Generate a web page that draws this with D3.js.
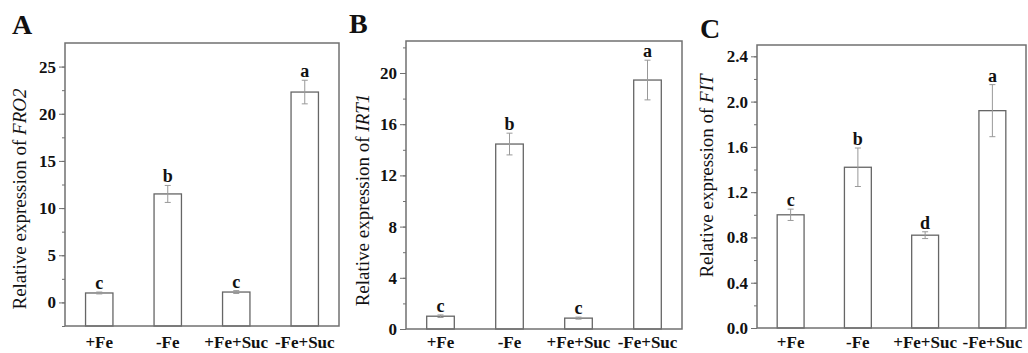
<!DOCTYPE html>
<html>
<head>
<meta charset="utf-8">
<script src="https://cdn.jsdelivr.net/npm/d3@7"></script>
<style>
  body { margin: 0; background: #fff; }
  svg { display: block; }
  text { font-family: "Liberation Serif", "Times New Roman", serif; }
</style>
</head>
<body>
<svg id="chart" width="1028" height="353"></svg>
<script>
// treatments on the x axis, shared by all three panels
var groups = ["+Fe", "-Fe", "+Fe+Suc", "-Fe+Suc"];

// A: FRO2
var fro2Mean = [1.0, 11.5, 1.1, 22.3];
var fro2Err = [0.1, 0.9, 0.15, 1.25];
var fro2Sig = ["c", "b", "c", "a"];
var fro2Ticks = [0, 5, 10, 15, 20, 25];

// B: IRT1
var irt1Mean = [1.0, 14.45, 0.85, 19.45];
var irt1Err = [0.1, 0.85, 0.08, 1.55];
var irt1Sig = ["c", "b", "c", "a"];
var irt1Ticks = [0, 4, 8, 12, 16, 20];

// C: FIT
var fitMean = [1.0, 1.42, 0.82, 1.92];
var fitErr = [0.05, 0.17, 0.03, 0.23];
var fitSig = ["c", "b", "d", "a"];
var fitTicks = [0, 0.4, 0.8, 1.2, 1.6, 2.0, 2.4];

var panels = [
    { letter: "A", gene: "FRO2", mean: fro2Mean, err: fro2Err, sig: fro2Sig, ticks: fro2Ticks,
      domain: [-2.5, 27.5], minor: 2.5, fmt: d3.format("d"),
      x0: 65, x1: 339, y0: 43, y1: 326, letterX: 12, letterY: 34, titleX: 26, titleY: 199 },
    { letter: "B", gene: "IRT1", mean: irt1Mean, err: irt1Err, sig: irt1Sig, ticks: irt1Ticks,
      domain: [0, 22.5], minor: 2, fmt: d3.format("d"),
      x0: 406, x1: 682, y0: 41, y1: 329, letterX: 349, letterY: 33, titleX: 369, titleY: 200 },
    { letter: "C", gene: "FIT", mean: fitMean, err: fitErr, sig: fitSig, ticks: fitTicks,
      domain: [0, 2.5], minor: 0.2, fmt: d3.format(".1f"),
      x0: 757, x1: 1026, y0: 45, y1: 328, letterX: 700, letterY: 38, titleX: 713, titleY: 176 }
];

var svg = d3.select("#chart");
var frameColor = "#707070";

panels.forEach(function (p) {
    var g = svg.append("g");

    var x = d3.scaleBand().domain(groups).range([p.x0, p.x1]).padding(0);
    var y = d3.scaleLinear().domain(p.domain).range([p.y1, p.y0]);
    var barW = x.bandwidth() * 0.4;
    var base = Math.max(p.domain[0], 0);

    // minor ticks first, then the labelled ones
    var minorVals = d3.range(p.domain[0], p.domain[1] + 1e-9, p.minor)
        .filter(v => v >= p.domain[0] && v <= p.domain[1] - 1e-9);
    var minorAxis = g.append("g")
        .attr("transform", "translate(" + p.x0 + ",0)")
        .call(d3.axisLeft(y).tickValues(minorVals).tickSize(3).tickFormat(""));
    minorAxis.select(".domain").remove();
    minorAxis.selectAll("line").attr("stroke", frameColor);

    var yAxis = g.append("g")
        .attr("transform", "translate(" + p.x0 + ",0)")
        .call(d3.axisLeft(y).tickValues(p.ticks).tickSize(6).tickPadding(3).tickFormat(p.fmt));
    yAxis.select(".domain").remove();
    yAxis.selectAll("line").attr("stroke", frameColor);
    yAxis.selectAll("text")
        .attr("fill", "#111")
        .style("font-size", "17px")
        .style("font-weight", "bold");

    // bars (panel A's bars run down to the frame bottom)
    g.selectAll("rect.bar")
        .data(p.mean)
        .enter().append("rect")
        .attr("class", "bar")
        .attr("x", (d, i) => x(groups[i]) + (x.bandwidth() - barW) / 2)
        .attr("y", d => y(d))
        .attr("width", barW)
        .attr("height", d => y(p.domain[0]) - y(d))
        .attr("fill", "#fff")
        .attr("stroke", "#666")
        .attr("stroke-width", 1.3);

    // error bars
    var eb = g.selectAll("g.err")
        .data(p.mean)
        .enter().append("g")
        .attr("class", "err")
        .attr("stroke", "#999")
        .attr("stroke-width", 1);
    eb.append("line")
        .attr("x1", (d, i) => x(groups[i]) + x.bandwidth() / 2)
        .attr("x2", (d, i) => x(groups[i]) + x.bandwidth() / 2)
        .attr("y1", (d, i) => y(d + p.err[i]))
        .attr("y2", (d, i) => y(d - p.err[i]));
    eb.append("line")
        .attr("x1", (d, i) => x(groups[i]) + x.bandwidth() / 2 - 3)
        .attr("x2", (d, i) => x(groups[i]) + x.bandwidth() / 2 + 3)
        .attr("y1", (d, i) => y(d + p.err[i]))
        .attr("y2", (d, i) => y(d + p.err[i]));
    eb.append("line")
        .attr("x1", (d, i) => x(groups[i]) + x.bandwidth() / 2 - 3)
        .attr("x2", (d, i) => x(groups[i]) + x.bandwidth() / 2 + 3)
        .attr("y1", (d, i) => y(d - p.err[i]))
        .attr("y2", (d, i) => y(d - p.err[i]));

    // significance letters
    g.selectAll("text.sig")
        .data(p.sig)
        .enter().append("text")
        .attr("class", "sig")
        .attr("x", (d, i) => x(groups[i]) + x.bandwidth() / 2)
        .attr("y", (d, i) => y(p.mean[i] + p.err[i]) - 3)
        .attr("text-anchor", "middle")
        .style("font-size", "18px")
        .style("font-weight", "bold")
        .attr("fill", "#111")
        .text(d => d);

    // frame
    g.append("rect")
        .attr("x", p.x0)
        .attr("y", p.y0)
        .attr("width", p.x1 - p.x0)
        .attr("height", p.y1 - p.y0)
        .attr("fill", "none")
        .attr("stroke", frameColor)
        .attr("stroke-width", 1.5);

    // x labels
    g.selectAll("text.xlab")
        .data(groups)
        .enter().append("text")
        .attr("class", "xlab")
        .attr("x", d => x(d) + x.bandwidth() / 2)
        .attr("y", 348)
        .attr("text-anchor", "middle")
        .style("font-size", "17px")
        .style("font-weight", "bold")
        .attr("fill", "#111")
        .text(d => d);

    // y title with italic gene name
    var title = g.append("text")
        .attr("transform", "translate(" + p.titleX + "," + p.titleY + ") rotate(-90)")
        .attr("text-anchor", "middle")
        .style("font-size", "19px")
        .attr("fill", "#111");
    title.append("tspan").text("Relative expression of ");
    title.append("tspan").style("font-style", "italic").text(p.gene);

    // panel letter
    g.append("text")
        .attr("x", p.letterX)
        .attr("y", p.letterY)
        .style("font-size", "28px")
        .style("font-weight", "bold")
        .attr("fill", "#111")
        .text(p.letter);
});
</script>
</body>
</html>
